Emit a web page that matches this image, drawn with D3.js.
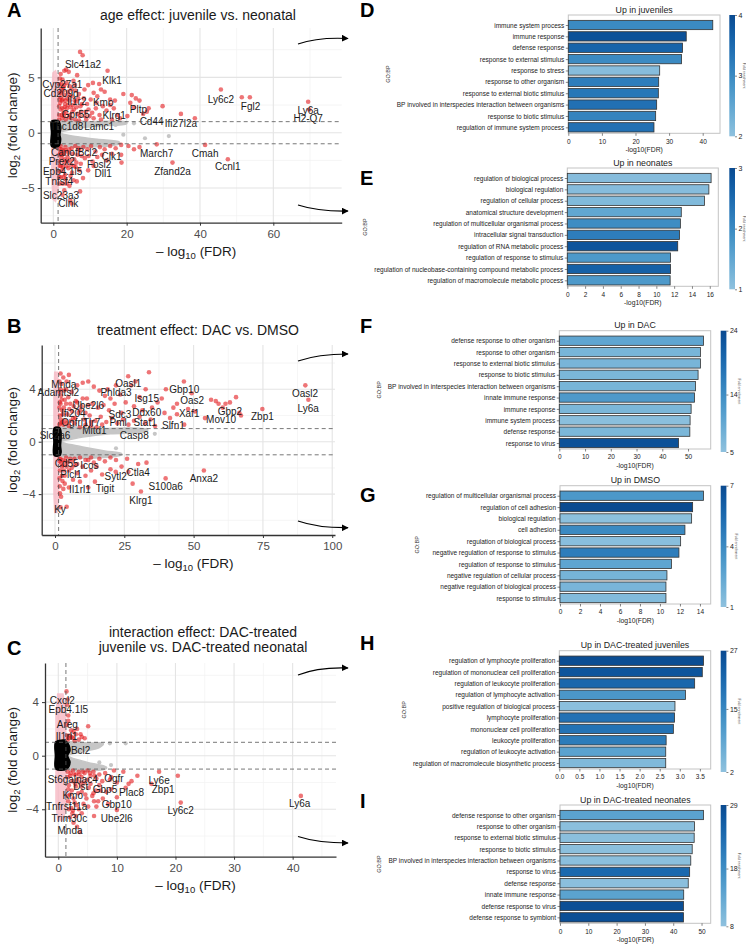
<!DOCTYPE html>
<html><head><meta charset="utf-8">
<script src="https://cdn.jsdelivr.net/npm/d3@7"></script>
<style>body{margin:0;background:#fff}svg{font-family:"Liberation Sans",Arial,Helvetica,sans-serif}</style>
</head><body><svg id="c" width="746" height="944"></svg>
<script>
// ===================== DATA: volcano A (age effect) =====================
const A_red = [[2.0,5.3],[2.5,4.8],[3.0,5.6],[3.5,5.7],[4.2,5.5],[2.2,4.4],[2.8,4.1],[3.6,4.5],[4.5,4.2],[5.5,4.7],[6.5,5.2],[7.3,7.3],[8.0,7.0],[2.1,3.6],[3.0,3.4],[4.0,3.7],[5.0,3.3],[6.0,3.8],[7.0,3.5],[8.5,3.9],[9.5,4.3],[2.3,2.9],[3.2,2.6],[4.4,2.9],[5.3,2.5],[6.2,2.8],[7.4,2.4],[8.3,3.1],[9.2,2.6],[10.2,3.0],[11.0,3.6],[12.0,3.3],[13.0,3.9],[14.0,3.7],[14.8,5.6],[10.8,4.5],[11.8,2.7],[2.0,2.1],[2.8,1.8],[3.7,2.2],[4.6,1.6],[5.6,2.1],[6.6,1.7],[7.6,1.9],[8.6,1.5],[9.6,2.1],[10.6,1.8],[11.6,2.2],[12.6,1.6],[13.5,2.4],[14.5,2.0],[15.5,2.5],[16.5,2.2],[17.5,1.6],[19.1,3.5],[21.4,3.4],[22.5,3.1],[23.5,2.9],[21,2.7],[22,2.3],[20.2,1.5],[24.5,1.7],[25.5,1.9],[26.0,2.2],[29.8,2.4],[34.8,1.7],[38.6,1.3],[45.7,3.9],[51.4,3.2],[53.6,3.2],[69.5,2.8],[69.8,2.1],[2.4,1.3],[3.4,1.2],[4.9,1.3],[6.0,1.2],[7.0,1.1],[9.0,1.2],[11,1.3],[13,1.2],[16,1.2],[18.2,1.3],[15.5,3.0],[16.8,2.9],[12.5,4.4],[1.8,4.9],[1.7,3.0],[1.6,1.6],
 [1.6,1.2],[1.6,2.4],[1.7,3.6],[1.6,4.4],[1.9,2.7],[2.0,3.2],[2.1,4.0],[2.3,1.6],[2.5,2.2],[2.6,3.0],[2.7,3.8],[2.9,1.5],[3.1,2.3],[3.3,2.9],[3.5,1.8],[3.8,3.1],[4.0,2.5],[4.2,1.4],[4.7,2.3],[5.0,3.9],[5.2,1.9],[5.8,2.9],[6.3,2.3],[6.8,3.1],[7.2,1.5],[7.8,2.6],[8.8,1.9],[9.9,1.5],[4.3,3.4],[3.0,4.3],[5.9,4.3],
 [2.0,-1.2],[2.6,-1.6],[3.3,-1.3],[4.1,-1.8],[5.0,-1.4],[6.0,-1.2],[7.1,-1.6],[8.2,-1.3],[9.3,-1.5],[10.3,-1.2],[11.5,-1.7],[12.7,-1.3],[14.0,-1.5],[15.5,-1.2],[17.0,-1.4],[18.5,-1.1],[20.5,-1.2],[22.0,-1.5],[23.5,-1.3],[28.2,-1.05],[41.4,-1.1],[2.2,-2.3],[3.0,-2.7],[3.9,-2.2],[4.8,-2.9],[5.7,-2.4],[6.6,-2.0],[7.5,-2.8],[8.6,-2.3],[9.6,-2.1],[10.7,-2.6],[12.0,-2.2],[13.3,-2.0],[14.6,-2.5],[16.0,-1.9],[18.5,-2.0],[18.6,-2.7],[32.5,-2.7],[47.6,-2.4],[2.4,-3.4],[3.2,-3.8],[4.1,-3.2],[5.1,-3.6],[6.1,-3.1],[7.1,-3.4],[8.1,-4.1],[9.5,-3.4],[11.0,-3.0],[2.6,-4.6],[3.4,-4.2],[4.4,-4.8],[5.5,-4.3],[6.4,-4.4],[3.0,-5.2],[4.6,-6.1],[5.0,-6.4],[7.3,-5.3],[2.5,-5.6],[1.7,-2.0],[1.8,-3.0],[1.6,-4.0],
 [1.6,-1.4],[1.7,-2.6],[1.6,-3.5],[1.7,-4.6],[1.9,-1.8],[2.1,-3.0],[2.3,-1.5],[2.5,-2.0],[2.7,-3.1],[2.9,-1.9],[3.1,-2.4],[3.4,-1.6],[3.6,-3.0],[3.8,-2.6],[4.3,-1.5],[4.5,-2.5],[4.7,-3.9],[5.3,-1.9],[5.6,-3.0],[6.3,-2.7],[6.9,-1.4],[7.7,-2.1],[2.0,-4.0],[2.8,-4.0],[3.6,-4.6]];
const A_gray = [[19.1,-0.18],[31.5,-0.3],[22,0.85],[25,-0.5],[17,0.7]];
const A_grayUp = [[1.3,1.0],[10,1.0],[20,0.95],[20,0.8],[12,0.6],[6,0.35],[3,0.15],[1.3,0.05]];
const A_grayDn = [[1.3,-0.05],[3,-0.15],[6,-0.35],[12,-0.6],[18,-0.85],[18,-1.0],[1.3,-1.0]];
const A_pinkUp = [[-0.4,1],[-0.4,3.5],[-0.1,5.4],[0.6,5.6],[1.2,5.0],[1.3,1]];
const A_pinkDn = [[-0.4,-1],[-0.4,-4],[-0.1,-6.0],[0.6,-6.2],[1.3,-5.2],[1.3,-1]];
const A_black = [[-0.45,1.05],[1.5,1.05],[2.0,0.4],[1.8,-0.2],[2.0,-0.6],[1.5,-1.2],[-0.45,-1.25],[-0.5,0]];
const A_labNames = ["Slc41a2","Klk1","Cyp27a1","Cd209d","Il1r2","Kmo","Gpr55","Klrg1","Pltp","Cd44","Ifi27l2a","Lamc1","Tbc1d8","Ly6c2","Fgl2","Ly6a","H2-Q7","Canof","Bcl2","Prex2","Clk1","March7","Cmah","Fosl2","Dll1","Zfand2a","Ccnl1","Epb4.1l5","Tnfsf4","Slc23a3","Clnk"];
const A_labX = [8.1,16.0,2.45,2.1,6.4,13.6,6.1,16.6,23.2,26.8,34.8,12.5,3.65,45.7,53.8,69.5,69.5,3.0,9.3,2.3,15.9,28.2,41.4,12.5,13.6,32.5,47.6,2.55,1.6,2.1,4.1];
const A_labY = [6.2,4.76,4.37,3.56,2.8,2.75,1.66,1.51,2.11,0.99,0.85,0.6,0.6,3.04,2.35,1.99,1.3,-1.81,-1.81,-2.62,-2.17,-1.86,-1.92,-2.89,-3.73,-3.52,-3.07,-3.52,-4.45,-5.63,-6.38];

// ===================== DATA: volcano B (treatment effect) =====================
const B_red = [[2.0,5.2],[3.0,4.9],[5.0,5.1],[2.3,4.4],[4.0,4.0],[6.0,3.8],[8.0,4.3],[10.0,4.5],[12.0,4.6],[14.0,4.2],[16.0,3.9],[18.0,3.5],[20.0,3.3],[2.2,3.5],[3.5,3.2],[5.5,2.9],[7.5,3.1],[9.5,2.7],[11.5,3.3],[13.5,2.9],[15.5,2.6],[17.5,2.8],[19.5,2.4],[21.5,2.9],[23.5,3.6],[25.5,3.0],[26.4,5.0],[27.5,4.3],[28.5,2.7],[30.5,3.4],[31.5,2.4],[32.7,4.0],[33.9,5.3],[35.0,2.6],[36.1,1.2],[37.0,3.0],[38.5,3.3],[39.5,2.2],[41.5,1.8],[42.7,2.6],[44.0,2.1],[46.5,4.6],[46.6,1.3],[49.3,3.7],[50.5,2.3],[54.1,1.8],[56.3,3.2],[58.0,3.1],[59.0,2.9],[60.5,2.6],[61.5,2.9],[63.1,3.0],[65.3,3.4],[67.1,2.0],[66.5,2.2],[74.8,2.5],[90.3,4.3],[91.4,3.2],[2.5,2.4],[4.5,2.1],[6.5,1.8],[8.5,2.2],[10.5,1.7],[12.5,2.0],[14.5,1.6],[16.5,1.9],[18.5,1.5],[20.5,1.8],[22.5,1.4],[24.5,1.7],[26.5,1.3],[28.5,1.6],[30.5,1.9],[32.5,1.4],[34.5,1.7],[3,1.3],[5,1.2],[7,1.4],[9,1.1],[11,1.3],[13,1.2],[15,1.1],[17,1.3],[24,2.2],[19,4.0],[22,4.3],[29,4.6],[40,4.0],[44,2.9],[48,2.5],[1.8,2.0],[1.7,3.0],[1.9,1.4],
 [1.6,1.3],[1.6,2.6],[1.7,3.8],[1.6,4.6],[2.0,2.9],[2.1,1.7],[2.4,3.2],[2.6,1.5],[2.8,2.1],[3.2,2.6],[3.3,3.9],[3.6,1.6],[4.0,2.9],[4.3,1.4],[4.8,3.4],[5.2,2.5],[5.7,1.6],[6.2,2.3],[6.8,2.7],[7.3,1.8],[8.0,3.0],[9.0,2.4],[10.0,3.3],[11.0,2.2],[12.0,2.8],[13.0,1.5],[2.0,4.0],[4.2,4.6],
 [2.0,-1.3],[3.0,-1.8],[4.0,-1.2],[5.0,-2.2],[6.0,-1.5],[7.0,-1.3],[8.0,-1.7],[9.0,-1.2],[10.0,-1.9],[12.0,-1.4],[14.0,-1.6],[16.0,-1.3],[18.0,-1.5],[20.0,-1.2],[22.0,-1.4],[24.0,-1.9],[26.0,-1.3],[21.9,-2.3],[30.0,-1.7],[31.0,-3.8],[28.0,-3.2],[39.9,-2.8],[53.7,-2.2],[14.4,-3.05],[9.0,-3.05],[4.2,-4.96],[1.8,-3.94],[2.5,-2.6],[3.5,-3.2],[6.5,-2.9],[8.0,-2.4],[11.0,-2.6],[13.0,-2.2],[17.0,-2.5],[2.2,-4.2],[3.0,-3.6],[2.0,-5.0],[26.5,-2.3],[20,-2.1],[12,-3.5],[4.5,-1.6],[33,-1.6],[1.8,-2.2],[1.7,-1.5],
 [1.6,-1.3],[1.6,-2.8],[1.7,-3.4],[2.2,-1.6],[2.5,-1.9],[2.8,-1.4],[3.2,-2.2],[3.7,-1.5],[4.2,-1.9],[5.5,-1.3],[6.0,-2.0],[7.0,-1.8],[2.7,-3.0],[3.5,-2.6],[5.0,-3.5],[11,-1.4],[13,-1.2],[15,-1.9]];
const B_gray = [[33,0.9],[36,0.6],[22,-0.5],[27,0.75]];
const B_grayUp = [[1.5,1.0],[15,1.0],[33,0.95],[33,0.8],[20,0.6],[10,0.35],[4,0.12],[1.5,0.05]];
const B_grayDn = [[1.5,-0.05],[4,-0.15],[10,-0.4],[18,-0.7],[24,-0.9],[24,-1.0],[1.5,-1.0]];
const B_pinkUp = [[-0.4,1],[-0.4,3.5],[-0.1,5.3],[0.8,5.3],[1.2,4.5],[1.3,1]];
const B_pinkDn = [[-0.4,-1],[-0.4,-4],[-0.1,-5.4],[0.8,-5.4],[1.3,-4.2],[1.3,-1]];
const B_black = [[-0.3,1.05],[1.8,1.05],[2.2,0.3],[2.0,-0.3],[2.2,-0.8],[1.8,-1.05],[-0.3,-1.05],[-0.4,0]];
const B_labNames = ["Mnda","Adamtsl2","Oasl1","Phlda3","Gbp10","Isg15","Oas2","Ube2l6","Ifi204","Sdc3","Ddx60","Xaf1","Gbp2","Oasl2","Ly6a","Zbp1","Mov10","Ogfrl1","Tlr7","Pml","Stat1","Slfn1","Mitd1","Slc2a6","Casp8","Cd55","Icos","Ctla4","Sytl2","Anxa2","Plcl1","S100a6","Il1rl1","Tigit","Klrg1","Ky"];
const B_labX = [3.2,1.2,26.4,22.0,46.6,33.1,49.5,12.0,6.6,23.4,33.1,48.4,63.1,90.2,91.3,74.8,59.9,7.2,13.2,22.8,32.5,42.7,14.2,0,28.6,4.2,12.4,30.0,21.9,53.7,5.8,39.9,9.0,18.0,31.0,1.8];
const B_labY = [4.38,3.74,4.46,3.74,3.95,3.31,3.11,2.8,2.17,2.04,2.21,2.17,2.34,3.69,2.55,1.91,1.66,1.45,1.45,1.45,1.45,1.27,0.82,0.51,0.44,-1.7,-1.83,-2.34,-2.67,-2.79,-2.54,-3.44,-3.63,-3.59,-4.45,-5.16];

// ===================== DATA: volcano C (interaction effect) =====================
const C_red = [[1.4,4.8],[1.7,3.0],[5.1,2.2],[1.5,2.3],[2.0,1.5],[2.5,1.3],[3.0,1.6],[3.5,1.2],[4.0,1.4],[4.5,1.3],[2.2,1.9],[1.6,1.2],[2.8,1.1],[3.2,2.0],[1.5,3.8],[1.6,4.2],
 [1.5,1.5],[1.8,1.3],[2.3,1.4],[2.6,1.8],[3.8,1.6],[1.7,2.6],
 [1.6,-1.2],[2.0,-1.5],[2.5,-1.1],[3.0,-1.4],[3.5,-1.2],[4.0,-1.6],[4.5,-1.3],[5.0,-1.1],[5.5,-1.5],[6.0,-1.2],[6.5,-1.7],[7.0,-1.4],[7.5,-1.9],[8.0,-1.3],[9.0,-1.6],[9.5,-1.1],[10.0,-2.0],[11.1,-1.2],[12.0,-2.1],[12.5,-1.9],[13.5,-1.5],[15.9,-2.1],[17.2,-1.2],[20.4,-1.5],[20.9,-3.5],[41.4,-3.0],[1.8,-2.2],[2.3,-2.6],[2.9,-2.1],[3.4,-2.8],[4.0,-2.3],[4.6,-2.9],[5.2,-2.4],[5.8,-3.0],[6.4,-2.6],[7.0,-2.2],[7.6,-3.2],[8.2,-2.7],[9.0,-2.5],[10.0,-3.1],[1.7,-3.4],[2.2,-3.9],[2.8,-3.5],[3.5,-4.0],[4.3,-3.6],[5.1,-3.8],[6.1,-3.4],[6.8,-3.4],[10.0,-4.05],[6.1,-4.5],[2.0,-4.6],[2.6,-5.0],[3.2,-5.3],[3.7,-5.7],[2.4,-4.3],[4.8,-3.2],[8.8,-1.8],[11.5,-2.4],
 [1.6,-1.6],[1.7,-2.5],[1.6,-3.0],[1.8,-4.0],[2.1,-1.3],[2.4,-1.9],[2.7,-1.4],[3.0,-2.3],[3.2,-1.8],[3.6,-1.4],[3.8,-2.0],[4.2,-1.2],[4.4,-2.0],[5.0,-1.8],[5.4,-1.3],[6.2,-1.5],[2.0,-2.9],[2.6,-3.2],[3.1,-3.7],[4.0,-2.7],[5.5,-2.1],[6.0,-2.8],[7.2,-2.6],[3.0,-4.5],[2.5,-4.1],[4.0,-4.3],[6.5,-3.8],[8.5,-3.6]];
const C_gray = [[8.8,0.92],[11.5,0.92],[7,-0.5],[9,-0.7]];
const C_grayUp = [[1.4,0.95],[5,0.95],[7.7,0.9],[7,0.6],[4,0.3],[2,0.1],[1.4,0.05]];
const C_grayDn = [[1.4,-0.05],[2.5,-0.2],[5,-0.5],[8.2,-0.85],[8.2,-0.95],[1.4,-0.95]];
const C_pinkUp = [[-0.4,1],[-0.4,3],[-0.1,4.6],[0.8,4.6],[1.2,3.5],[1.3,1]];
const C_pinkDn = [[-0.4,-1],[-0.4,-3.5],[-0.1,-4.8],[0.8,-4.8],[1.3,-4.0],[1.3,-1]];
const C_black = [[-0.4,1.05],[1.4,1.05],[2.0,0.4],[1.6,0.0],[2.0,-0.5],[1.4,-1.0],[-0.4,-1.0],[-0.5,0]];
const C_labNames = ["Cxcl2","Epb4.1l5","Areg","Il1rl1","Bcl2","St6galnac4","Ogfr","Dst","Gbp5","Plac8","Ly6e","Zbp1","Kmo","Tnfrsf11a","Gbp10","Ly6c2","Ly6a","Trim30c","Ube2l6","Mnda"];
const C_labX = [0.68,1.7,1.54,1.43,3.82,2.46,9.5,3.82,7.97,12.5,17.2,17.9,2.46,1.43,9.97,20.9,41.2,1.88,9.97,2.0];
const C_labY = [4.1,3.46,2.34,1.42,0.37,-1.74,-1.72,-2.31,-2.56,-2.76,-1.87,-2.49,-2.99,-3.81,-3.68,-4.1,-3.55,-4.67,-4.72,-5.6];

// ===================== DATA: GO:BP bar panels =====================
const D_terms = ["immune system process","immune response","defense response","response to external stimulus","response to stress","response to other organism","response to external biotic stimulus","BP involved in interspecies interaction between organisms","response to biotic stimulus","regulation of immune system process"];
const D_fdr = [43.0,35.1,34.0,33.7,27.2,26.9,26.8,26.3,26.0,25.5];
const D_fold = [3.0,3.9,3.6,3.0,2.1,3.2,3.3,3.4,3.1,3.4];
const D_cbTicks = [2,3,4];

const E_terms = ["regulation of biological process","biological regulation","regulation of cellular process","anatomical structure development","regulation of multicellular organismal process","intracellular signal transduction","regulation of RNA metabolic process","regulation of response to stimulus","regulation of nucleobase-containing compound metabolic process","regulation of macromolecule metabolic process"];
const E_fdr = [16.15,15.9,15.4,12.8,12.7,12.6,12.4,11.6,11.6,11.55];
const E_fold = [1.1,1.1,1.15,1.5,1.95,2.2,2.85,1.75,2.65,1.75];
const E_cbTicks = [1,2,3];

const F_terms = ["defense response to other organism","response to other organism","response to external biotic stimulus","response to biotic stimulus","BP involved in interspecies interaction between organisms","innate immune response","immune response","immune system process","defense response","response to virus"];
const F_fdr = [56.0,54.8,54.8,53.9,52.9,52.5,51.2,50.8,50.7,46.3];
const F_fold = [10,7.3,7.3,7,7.3,12,7,5.5,7,23];
const F_cbTicks = [5,14,24];

const G_terms = ["regulation of multicellular organismal process","regulation of cell adhesion","biological regulation","cell adhesion","regulation of biological process","negative regulation of response to stimulus","regulation of response to stimulus","negative regulation of cellular process","negative regulation of biological process","response to stimulus"];
const G_fdr = [14.36,13.27,13.17,12.5,12.07,11.9,11.15,10.7,10.6,10.6];
const G_fold = [3.3,7,1.1,4.0,1.2,4.6,2.6,1.8,1.7,1.4];
const G_cbTicks = [1,4,7];

const H_terms = ["regulation of lymphocyte proliferation","regulation of mononuclear cell proliferation","regulation of leukocyte proliferation","regulation of lymphocyte activation","positive regulation of biological process","lymphocyte proliferation","mononuclear cell proliferation","leukocyte proliferation","regulation of leukocyte activation","regulation of macromolecule biosynthetic process"];
const H_fdr = [3.59,3.56,3.37,3.14,2.88,2.87,2.84,2.66,2.65,2.65];
const H_fold = [26.5,25,21.4,11.7,2.5,19.3,19,17.3,9.2,4];
const H_cbTicks = [2,15,27];

const I_terms = ["defense response to other organism","response to other organism","response to external biotic stimulus","response to biotic stimulus","BP involved in interspecies interaction between organisms","response to virus","defense response","innate immune response","defense response to virus","defense response to symbiont"];
const I_fdr = [50.7,47.5,47.4,46.7,46.2,45.8,45.3,43.7,43.6,43.6];
const I_fold = [14,8.5,8.5,8.5,8.5,24,8.5,14,28.4,28.4];
const I_cbTicks = [8,18,29];

// ===================== DRAWING =====================
const svg = d3.select('#c');
const defs = svg.append('defs');
defs.append('marker').attr('id','ah').attr('viewBox','0 0 10 10').attr('refX',9).attr('refY',5)
  .attr('markerWidth',7).attr('markerHeight',7).attr('markerUnits','userSpaceOnUse').attr('orient','auto')
  .append('path').attr('d','M0,0L10,5L0,10Z').attr('fill','#000');

function polyPath(g, x, y, pts, fill, curve, op){
  g.append('path').attr('d', d3.line().x(d=>x(d[0])).y(d=>y(d[1])).curve(curve || d3.curveCatmullRomClosed.alpha(0.5))(pts))
    .attr('fill', fill).attr('stroke', fill).attr('stroke-width', 1.5).attr('opacity', op || 1);
}

function volcano(o){
  const x = d3.scaleLinear().domain(o.xd).range([o.L, o.R]);
  const y = d3.scaleLinear().domain(o.yd).range([o.B, o.T]);
  const g = svg.append('g');
  const grid = g.append('g');
  grid.selectAll('.gxm').data(o.xMinor).join('line').attr('x1',d=>x(d)).attr('x2',d=>x(d)).attr('y1',o.T).attr('y2',o.B).attr('stroke','#f1f1f1').attr('stroke-width',0.7);
  grid.selectAll('.gym').data(o.yMinor).join('line').attr('y1',d=>y(d)).attr('y2',d=>y(d)).attr('x1',o.L).attr('x2',o.R).attr('stroke','#f1f1f1').attr('stroke-width',0.7);
  grid.selectAll('.gx').data(o.xTicks).join('line').attr('x1',d=>x(d)).attr('x2',d=>x(d)).attr('y1',o.T).attr('y2',o.B).attr('stroke','#e4e4e4').attr('stroke-width',1.1);
  grid.selectAll('.gy').data(o.yTicks).join('line').attr('y1',d=>y(d)).attr('y2',d=>y(d)).attr('x1',o.L).attr('x2',o.R).attr('stroke','#e4e4e4').attr('stroke-width',1.1);

  const cid = 'clip' + o.id;
  defs.append('clipPath').attr('id', cid).append('rect').attr('x',o.L).attr('y',o.T).attr('width',o.R-o.L).attr('height',o.B-o.T);
  const p = g.append('g').attr('clip-path', `url(#${cid})`);
  polyPath(p, x, y, o.grayUp, '#c6c6c6');
  polyPath(p, x, y, o.grayDn, '#c6c6c6');
  p.selectAll('.gp').data(o.gray).join('circle').attr('cx',d=>x(d[0])).attr('cy',d=>y(d[1])).attr('r',2.1).attr('fill','#c6c6c6');
  polyPath(p, x, y, o.pinkUp, '#f7b4c0', d3.curveLinearClosed, 0.75);
  polyPath(p, x, y, o.pinkDn, '#f7b4c0', d3.curveLinearClosed, 0.75);
  p.selectAll('.rp').data(o.red).join('circle').attr('cx',d=>x(d[0])).attr('cy',d=>y(d[1])).attr('r',2.3)
    .attr('fill','#e3191c').attr('fill-opacity',0.6);
  g.selectAll('.lab').data(o.labNames).join('text').attr('x',(d,i)=>x(o.labX[i])).attr('y',(d,i)=>y(o.labY[i]))
    .attr('text-anchor','middle').attr('dominant-baseline','central').attr('font-size',10).attr('fill','#1a1a1a').text(d=>d);
  polyPath(p, x, y, o.black, '#000');
  [1,-1].forEach(v=>g.append('line').attr('x1',o.L).attr('x2',o.R).attr('y1',y(v)).attr('y2',y(v)).attr('stroke','#555').attr('stroke-width',0.8).attr('stroke-dasharray','4,3'));
  g.append('line').attr('x1',x(o.fdrLine)).attr('x2',x(o.fdrLine)).attr('y1',o.T).attr('y2',o.B).attr('stroke','#555').attr('stroke-width',0.8).attr('stroke-dasharray','4,3');
  const xa = g.append('g').attr('transform',`translate(0,${o.B})`).call(d3.axisBottom(x).tickValues(o.xTicks).tickSize(3).tickSizeOuter(0).tickPadding(4).tickFormat(d3.format('d')));
  const ya = g.append('g').attr('transform',`translate(${o.L},0)`).call(d3.axisLeft(y).tickValues(o.yTicks).tickSize(3).tickSizeOuter(0).tickPadding(3).tickFormat(d3.format('d')));
  [xa, ya].forEach(a=>{
    a.select('.domain').attr('stroke','#333').attr('stroke-width',1.3);
    a.selectAll('.tick line').attr('stroke','#333').attr('stroke-width',1);
    a.selectAll('.tick text').attr('font-size',11.5).attr('fill','#4d4d4d').attr('font-family','"Liberation Sans",Arial,sans-serif');
  });
  o.title.forEach((t,i)=>g.append('text').attr('x',o.titleX).attr('y',o.titleY + i*14.7).attr('text-anchor','middle').attr('font-size',14).attr('fill','#1a1a1a').text(t));
  const xt = g.append('text').attr('x',(o.L+o.R)/2+5).attr('y',o.B+33).attr('text-anchor','middle').attr('font-size',13.5).attr('fill','#1a1a1a');
  xt.append('tspan').text('\u2013 log');
  xt.append('tspan').attr('font-size',9.5).attr('dy',3).text('10');
  xt.append('tspan').attr('dy',-3).text(' (FDR)');
  const yt = g.append('text').attr('transform',`translate(17,${(o.T+o.B)/2}) rotate(-90)`).attr('text-anchor','middle').attr('font-size',13.5).attr('fill','#1a1a1a');
  yt.append('tspan').text('log');
  yt.append('tspan').attr('font-size',9.5).attr('dy',3).text('2');
  yt.append('tspan').attr('dy',-3).text(' (fold change)');
  g.append('text').attr('x',7).attr('y',o.letterY).attr('font-size',20).attr('font-weight','bold').attr('fill','#000').text(o.letter);
  o.arrows.forEach(d=>g.append('path').attr('d',d).attr('fill','none').attr('stroke','#000').attr('stroke-width',1.2).attr('marker-end','url(#ah)'));
}

volcano({id:'A', letter:'A', letterY:16.5, L:40.7, R:341.7, T:28, B:222.7, xd:[-3.44,78.65], yd:[-8.13,9.46],
  xTicks:[0,20,40,60], xMinor:[10,30,50,70], yTicks:[-5,0,5], yMinor:[-7.5,-2.5,2.5,7.5], fdrLine:1.3,
  red:A_red, gray:A_gray, grayUp:A_grayUp, grayDn:A_grayDn, pinkUp:A_pinkUp, pinkDn:A_pinkDn, black:A_black,
  labNames:A_labNames, labX:A_labX, labY:A_labY, title:['age effect: juvenile vs. neonatal'], titleX:198, titleY:20,
  arrows:['M298,44 Q318,37 348,38.5','M298,205 Q318,211.5 348,211']});
volcano({id:'B', letter:'B', letterY:333, L:41.7, R:335, T:345, B:535, xd:[-4.8,101.0], yd:[-7.12,7.38],
  xTicks:[0,25,50,75,100], xMinor:[12.5,37.5,62.5,87.5], yTicks:[-4,0,4], yMinor:[-6,-2,2,6], fdrLine:1.3,
  red:B_red, gray:B_gray, grayUp:B_grayUp, grayDn:B_grayDn, pinkUp:B_pinkUp, pinkDn:B_pinkDn, black:B_black,
  labNames:B_labNames, labX:B_labX, labY:B_labY, title:['treatment effect: DAC vs. DMSO'], titleX:198, titleY:335,
  arrows:['M298,361 Q318,354 348,354','M298,521 Q318,528 348,527.7']});
volcano({id:'C', letter:'C', letterY:655, L:45, R:336, T:663, B:856.7, xd:[-2.27,47.4], yd:[-7.54,6.92],
  xTicks:[0,10,20,30,40], xMinor:[5,15,25,35,45], yTicks:[-4,0,4], yMinor:[-6,-2,2,6], fdrLine:1.3,
  red:C_red, gray:C_gray, grayUp:C_grayUp, grayDn:C_grayDn, pinkUp:C_pinkUp, pinkDn:C_pinkDn, black:C_black,
  labNames:C_labNames, labX:C_labX, labY:C_labY, title:['interaction effect: DAC-treated','juvenile vs. DAC-treated neonatal'], titleX:203, titleY:637,
  arrows:['M298,675 Q318,667 348,668','M298,836.5 Q318,843 348,843']});

let gradN = 0;
function bars(o){
  const B = o.T + 118.3;
  const x = d3.scaleLinear().domain([0, d3.max(o.fdr)*1.05]).range([o.L, o.R]);
  const y = d3.scalePoint().domain(o.terms).range([o.T+10, o.T+10+9*11.37]);
  const cbMin = d3.min(o.cbTicks), cbMax = d3.max(o.cbTicks);
  const ts = d3.scaleLinear().domain([cbMin, cbMax]).range([0.41, 0.9]).clamp(true);
  const col = v => d3.interpolateBlues(ts(v));
  const g = svg.append('g');
  g.append('rect').attr('x',o.L).attr('y',o.T).attr('width',o.R-o.L).attr('height',B-o.T).attr('fill','none').attr('stroke','#c4c4c4').attr('stroke-width',1);
  g.selectAll('.bar').data(o.terms).join('rect').attr('x',o.L).attr('y',d=>y(d)-4.65).attr('height',9.3)
    .attr('width',(d,i)=>x(o.fdr[i])-o.L).attr('fill',(d,i)=>col(o.fold[i])).attr('stroke','#333').attr('stroke-width',0.8);
  const ya = g.append('g').attr('transform',`translate(${o.L},0)`).call(d3.axisLeft(y).tickSize(2.5).tickPadding(1.5));
  ya.select('.domain').remove();
  ya.selectAll('.tick line').attr('stroke','#333').attr('stroke-width',0.6);
  ya.selectAll('.tick text').attr('font-size',6.5).attr('fill','#222').attr('font-family','"Liberation Sans",Arial,sans-serif');
  const xa = g.append('g').attr('transform',`translate(0,${B})`).call(d3.axisBottom(x).tickValues(o.xTicks).tickFormat(o.fmt).tickSize(2.5).tickPadding(3.3));
  xa.select('.domain').remove();
  xa.selectAll('.tick line').attr('stroke','#333').attr('stroke-width',0.6);
  xa.selectAll('.tick text').attr('font-size',6.5).attr('fill','#222').attr('font-family','"Liberation Sans",Arial,sans-serif');
  g.append('text').attr('x',(o.L+o.R)/2).attr('y',B+18.5).attr('text-anchor','middle').attr('font-size',6.8).attr('fill','#222').text('-log10(FDR)');
  g.append('text').attr('x',(o.L+o.R)/2).attr('y',o.T-2.5).attr('text-anchor','middle').attr('font-size',8.8).attr('fill','#222').text(o.title);
  const bb = ya.node().getBBox();
  g.append('text').attr('transform',`translate(${o.L + bb.x - 7},${(o.T+B)/2}) rotate(-90)`).attr('text-anchor','middle').attr('font-size',5.5).attr('fill','#333').text('GO:BP');
  const gid = 'cbg' + (gradN++);
  const grad = defs.append('linearGradient').attr('id',gid).attr('x1',0).attr('y1',1).attr('x2',0).attr('y2',0);
  d3.range(0,1.0001,0.1).forEach(t=>grad.append('stop').attr('offset',t).attr('stop-color',col(cbMin + t*(cbMax-cbMin))));
  const cbB = B + 3;
  g.append('rect').attr('x',o.cbX).attr('y',o.T).attr('width',5.7).attr('height',cbB-o.T).attr('fill',`url(#${gid})`);
  const cy = d3.scaleLinear().domain([cbMin,cbMax]).range([cbB,o.T]);
  const ca = g.append('g').attr('transform',`translate(${o.cbX+5.7},0)`).call(d3.axisRight(cy).tickValues(o.cbTicks).tickSize(2).tickPadding(1.5).tickFormat(d3.format('d')));
  ca.select('.domain').remove();
  ca.selectAll('.tick line').attr('stroke','#333').attr('stroke-width',0.6);
  ca.selectAll('.tick text').attr('font-size',7).attr('fill','#222').attr('font-family','"Liberation Sans",Arial,sans-serif');
  const cbb = ca.node().getBBox();
  g.append('text').attr('transform',`translate(${o.cbX+5.7+cbb.x+cbb.width+0.6},${(o.T+cbB)/2}) rotate(90)`).attr('text-anchor','middle').attr('font-size',3.6).attr('fill','#444').text('Fold enrichment');
  g.append('text').attr('x',360).attr('y',o.letterY).attr('font-size',20).attr('font-weight','bold').attr('fill','#000').text(o.letter);
}
const intF = d3.format('d');
bars({letter:'D', letterY:17, title:'Up in juveniles', terms:D_terms, fdr:D_fdr, fold:D_fold, cbTicks:D_cbTicks, xTicks:[0,10,20,30,40], fmt:intF, L:568.3, R:720, T:15, cbX:729.3});
bars({letter:'E', letterY:185, title:'Up in neonates', terms:E_terms, fdr:E_fdr, fold:E_fold, cbTicks:E_cbTicks, xTicks:[0,2,4,6,8,10,12,14,16], fmt:intF, L:567.3, R:718.3, T:168, cbX:729.3});
bars({letter:'F', letterY:333, title:'Up in DAC', terms:F_terms, fdr:F_fdr, fold:F_fold, cbTicks:F_cbTicks, xTicks:[0,10,20,30,40,50], fmt:intF, L:559.3, R:710.7, T:330.7, cbX:720.7});
bars({letter:'G', letterY:502, title:'Up in DMSO', terms:G_terms, fdr:G_fdr, fold:G_fold, cbTicks:G_cbTicks, xTicks:[0,2,4,6,8,10,12,14], fmt:intF, L:560, R:710.7, T:485.7, cbX:720.7});
bars({letter:'H', letterY:650, title:'Up in DAC-treated juveniles', terms:H_terms, fdr:H_fdr, fold:H_fold, cbTicks:H_cbTicks, xTicks:[0,0.5,1,1.5,2,2.5,3,3.5], fmt:d3.format('.1f'), L:559.3, R:710.7, T:650.7, cbX:720.7});
bars({letter:'I', letterY:808, title:'Up in DAC-treated neonates', terms:I_terms, fdr:I_fdr, fold:I_fold, cbTicks:I_cbTicks, xTicks:[0,10,20,30,40,50], fmt:intF, L:560, R:710.7, T:805, cbX:720.7});
</script></body></html>
